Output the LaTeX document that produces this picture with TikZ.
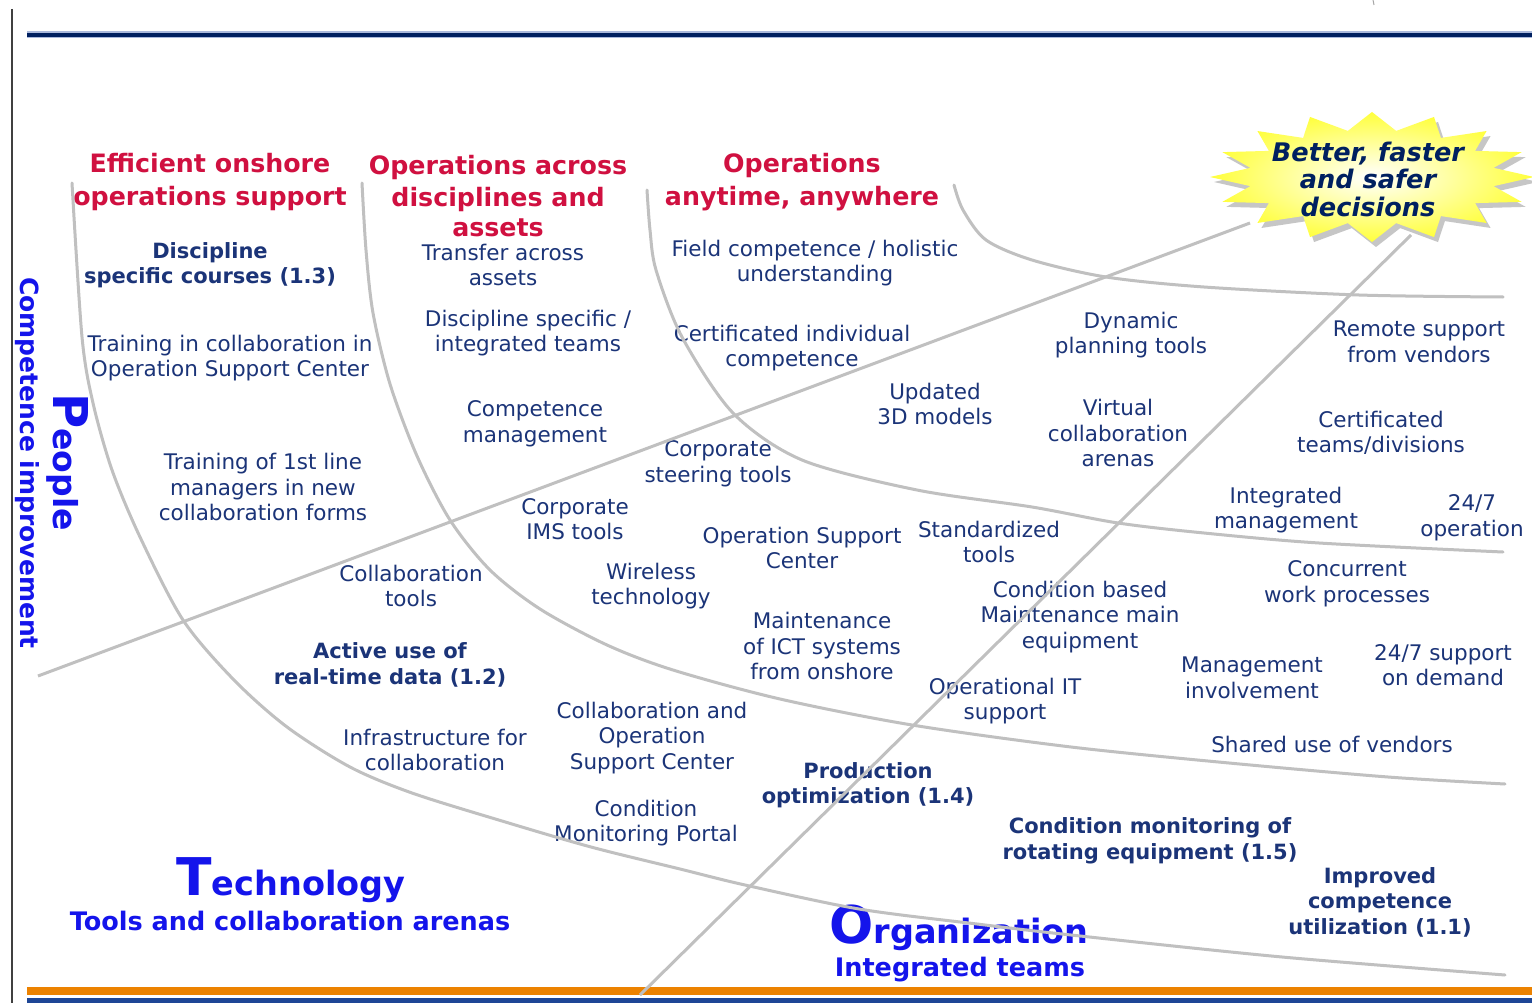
\documentclass[tikz,border=0pt]{standalone}
\usepackage{fontspec}
\setmainfont{DejaVu Sans}[ItalicFont={DejaVu Sans Oblique},BoldFont={DejaVu Sans Bold},BoldItalicFont={DejaVu Sans Bold Oblique}]
\usetikzlibrary{shapes.geometric}
\definecolor{navy}{RGB}{27,52,120}
\definecolor{hdred}{RGB}{208,16,64}
\definecolor{bigblue}{RGB}{20,20,235}
\definecolor{curvegray}{RGB}{192,192,192}
\definecolor{topnavy}{RGB}{0,32,96}
\definecolor{toplight}{RGB}{170,185,220}
\definecolor{barorange}{RGB}{236,130,0}
\definecolor{barblue}{RGB}{30,70,150}
\definecolor{staryellow}{RGB}{255,255,60}
\begin{document}
\begin{tikzpicture}[x=1pt,y=-1pt,
  txt/.style={align=center,inner sep=0pt,text=navy,font=\fontsize{21.5}{25.5}\selectfont},
  btxt/.style={align=center,inner sep=0pt,text=navy,font=\fontsize{21}{25.5}\selectfont\bfseries},
  hdr/.style={align=center,inner sep=0pt,text=hdred,font=\fontsize{25.3}{32.5}\selectfont\bfseries},
  bigsub/.style={align=center,inner sep=0pt,text=bigblue,font=\fontsize{25.5}{28}\selectfont\bfseries},
  curve/.style={draw=curvegray,line width=3pt,line cap=round},
  frame/.style={line cap=butt}]
\useasboundingbox (0,0) rectangle (1532,1003);
\fill[white] (0,0) rectangle (1532,1003);
\clip (0,0) rectangle (1532,1003);

% frame lines
\draw[frame,draw=gray!70,line width=1pt] (1373,0) -- (1374,5);
\draw[frame,draw=black!75,line width=2pt] (12,9) -- (12,1003);
\draw[frame,draw=toplight,line width=7pt] (27,35) -- (1532,35);
\draw[frame,draw=topnavy,line width=4.5pt] (27,35) -- (1532,35);
\fill[barorange] (27,987) rectangle (1532,995);
\fill[barblue] (27,998) rectangle (1532,1003);

% headers
\node[hdr] (h1) at (210,182) {Efficient onshore\\operations support};
\node[hdr] (h2) at (498,196) {Operations across\\disciplines and\\[-3pt]assets};
\node[hdr] (h3) at (802,182) {Operations\\anytime, anywhere};

% side / corner labels
\node[inner sep=0pt,text=bigblue,font=\fontsize{25}{25}\selectfont\bfseries,rotate=-90] (ci) at (27,463) {Competence improvement};
\node[inner sep=0pt,text=bigblue,font=\bfseries,rotate=-90] (pp) at (68,462) {{\fontsize{48}{48}\selectfont P}{\fontsize{33}{33}\selectfont eople}};
\node[inner sep=0pt,text=bigblue,font=\bfseries,anchor=base] (tech) at (291,895) {{\fontsize{52}{52}\selectfont T}{\fontsize{33.5}{33.5}\selectfont echnology}};
\node[bigsub] (techsub) at (290,921) {Tools and collaboration arenas};
\node[inner sep=0pt,text=bigblue,font=\bfseries,anchor=base] (org) at (959,943) {{\fontsize{52}{52}\selectfont O}{\fontsize{33.5}{33.5}\selectfont rganization}};
\node[bigsub] (orgsub) at (960,970) {Integrated teams};

% column 1
\node[btxt] (t1) at (210,265) {Discipline\\specific courses (1.3)};
\node[txt] (t2) at (230,358) {Training in collaboration in\\Operation Support Center};
\node[txt] (t3) at (263,487) {Training of 1st line\\managers in new\\collaboration forms};
\node[txt] (t4) at (411,586) {Collaboration\\tools};
\node[btxt] (t5) at (390,665) {Active use of\\real-time data (1.2)};
\node[txt] (t6) at (435,750) {Infrastructure for\\collaboration};

% column 2
\node[txt] (t7) at (503,265) {Transfer across\\assets};
\node[txt] (t8) at (528,333) {Discipline specific /\\integrated teams};
\node[txt] (t9) at (535,424) {Competence\\management};
\node[txt] (t10) at (575,519) {Corporate\\IMS tools};
\node[txt] (t11) at (651,586) {Wireless\\technology};
\node[txt] (t12) at (652,738) {Collaboration and\\Operation\\Support Center};
\node[txt] (t13) at (646,823) {Condition\\Monitoring Portal};

% column 3
\node[txt] (t14) at (815,263) {Field competence / holistic\\understanding};
\node[txt] (t15) at (792,348) {Certificated individual\\competence};
\node[txt] (t16) at (718,464) {Corporate\\steering tools};
\node[txt] (t17) at (935,404) {Updated\\3D models};
\node[txt] (t18) at (802,548) {Operation Support\\Center};
\node[txt] (t19) at (989,542) {Standardized\\tools};
\node[txt] (t20) at (822,646) {Maintenance\\of ICT systems\\from onshore};
\node[btxt] (t21) at (868,785) {Production\\optimization (1.4)};

% column 4
\node[txt] (t22) at (1131,335) {Dynamic\\planning tools};
\node[txt] (t23) at (1118,433) {Virtual\\collaboration\\arenas};
\node[txt] (t24) at (1080,617) {Condition based\\Maintenance main\\equipment};
\node[txt] (t25) at (1005,701) {Operational IT\\support};
\node[btxt] (t26) at (1150,841) {Condition monitoring of\\rotating equipment (1.5)};

% column 5
\node[txt] (t27) at (1419,342) {Remote support\\from vendors};
\node[txt] (t28) at (1381,433) {Certificated\\teams/divisions};
\node[txt] (t29) at (1286,510) {Integrated\\management};
\node[txt] (t30) at (1472,518) {24/7\\operation};
\node[txt] (t31) at (1347,584) {Concurrent\\work processes};
\node[txt] (t32) at (1252,678) {Management\\involvement};
\node[txt] (t33) at (1443,665) {24/7 support\\on demand};
\node[txt] (t34) at (1332,744) {Shared use of vendors};
\node[btxt] (t35) at (1380,902) {Improved\\competence\\utilization (1.1)};

% gray curves
\draw[curve] plot[smooth,tension=0.5] coordinates {(72,183) (82,337) (93,403) (112,470) (140,537) (183,620) (234,680) (287,727) (350,767) (412,793) (502,821) (591,847) (680,869) (745,885) (859,909) (977,924) (1071,935) (1282,957) (1505,975)};
\draw[curve] plot[smooth,tension=0.5] coordinates {(362,183) (366,250) (373,313) (390,384) (417,456) (450,520) (490,570) (540,609) (607,645) (673,670) (780,699) (912,725) (1071,747) (1229,763) (1388,777) (1505,784)};
\draw[curve] plot[smooth,tension=0.5] coordinates {(647,190) (650,230) (656,270) (682,337) (733,413) (802,460) (917,490) (1032,507) (1118,523) (1204,533) (1319,543) (1503,552)};
\draw[curve] plot[smooth,tension=0.5] coordinates {(954,185) (963,210) (986,240) (1032,260) (1106,277) (1204,287) (1359,295) (1503,297)};

% straight lines to the starburst
\coordinate (a0) at (38,676);
\coordinate (a1) at (1250,223);
\coordinate (b0) at (640,995);
\coordinate (b1) at (1411,235);
\draw[curve,line cap=butt] (a0) -- (a1);
\draw[curve,line cap=butt] (b0) -- (b1);

% starburst
\fill[gray!45] plot[samples at={0,1,...,31}] ({1376+ifthenelse(mod(\x,2)==0,162,124)*cos(\x*11.25-90)},{182+ifthenelse(mod(\x,2)==0,65,47)*sin(\x*11.25-90)}) -- cycle;
\shade[inner color=white,outer color=staryellow] plot[samples at={0,1,...,31}] ({1372+ifthenelse(mod(\x,2)==0,162,124)*cos(\x*11.25-90)},{177+ifthenelse(mod(\x,2)==0,65,47)*sin(\x*11.25-90)}) -- cycle;
\node[align=center,inner sep=0pt,text=topnavy,font=\fontsize{25.6}{27.5}\selectfont\bfseries\itshape] (burst) at (1368,179) {Better, faster\\and safer\\decisions};
\end{tikzpicture}
\end{document}
